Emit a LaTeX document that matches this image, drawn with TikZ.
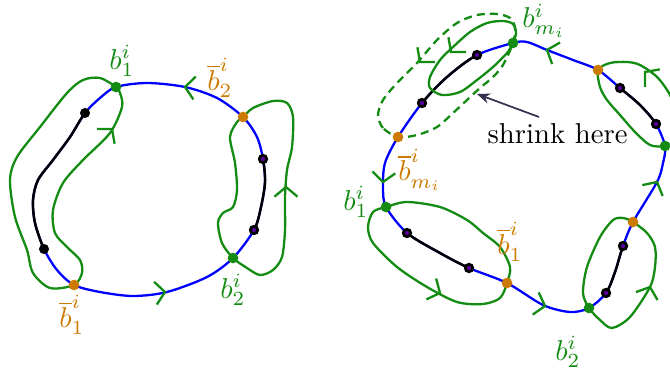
\documentclass[tikz,border=0pt]{standalone}
\usetikzlibrary{calc,arrows.meta}
\definecolor{gr}{RGB}{20,140,20}
\definecolor{orng}{RGB}{204,122,0}
\definecolor{purp}{RGB}{90,0,160}
\definecolor{navy}{RGB}{50,50,80}
\newcommand\chv[2]{\draw[gl] (#1) +(#2+130:15) -- (#1) -- +(#2-130:15);}
\newcommand\strip[3]{\clip ($(#1)!#3!90:(#2)$) -- ($(#1)!#3!-90:(#2)$) -- ($(#2)!#3!90:(#1)$) -- ($(#2)!#3!-90:(#1)$) -- cycle;}
\begin{document}
\begin{tikzpicture}[x=0.348pt,y=-0.348pt,
  bl/.style={blue,line width=0.8pt},
  gl/.style={gr,line width=0.8pt},
  kl/.style={black,line width=0.85pt},
  gdot/.style={circle,fill=gr,inner sep=0pt,minimum size=3.7pt},
  odot/.style={circle,fill=orng,inner sep=0pt,minimum size=3.7pt},
  kdot/.style={circle,fill=black,inner sep=0pt,minimum size=3.5pt},
  pdot/.style={circle,fill=purp,draw=black,line width=0.95pt,inner sep=0pt,minimum size=2.6pt},
  glab/.style={text=gr,inner sep=0pt},
  olab/.style={text=orng,inner sep=0pt}]
\useasboundingbox (0,0) rectangle (670,367);

% ---------------- left figure ----------------
\coordinate (Lb1) at (116,87);
\coordinate (Lbb2) at (243,117);
\coordinate (Lk1) at (85,113);
\coordinate (Lk2) at (44,249);
\coordinate (Lbb1) at (74,285);
\coordinate (Lb2) at (233,258);
\coordinate (Lk3) at (263,159);
\coordinate (Lk4) at (254,230);

\def\loopL{plot[smooth cycle] coordinates {(Lb1) (147,83) (185,87) (217,98) (Lbb2) (257,137) (Lk3) (265,182) (261,207) (Lk4) (Lb2) (207,277) (167,292) (133,296) (100,292) (Lbb1) (57,270) (Lk2) (35,223) (33,200) (38,180) (53,160) (70,137) (Lk1) (100,98)}}

\draw[bl] \loopL;
\begin{scope}\strip{Lk1}{Lk2}{14pt}\draw[kl] \loopL;\end{scope}
\begin{scope}\strip{Lk3}{Lk4}{6pt}\draw[kl] \loopL;\end{scope}

\draw[gl] plot[smooth cycle] coordinates {(Lb1) (100,78) (83,80) (67,93) (40,127) (17,157) (10,180) (15,217) (27,250) (33,273) (50,288) (Lbb1) (82,273) (80,260) (67,247) (55,233) (53,210) (63,183) (83,160) (110,133) (122,107) (120,93)};
\draw[gl] plot[smooth cycle] coordinates {(Lbb2) (253,108) (273,101) (287,103) (293,117) (292,147) (287,170) (285,197) (285,230) (282,257) (273,270) (260,275) (247,268) (Lb2) (222,243) (218,223) (223,213) (233,207) (237,190) (235,163) (230,137) (237,122)};

\chv{185,87}{186}
\chv{165,292}{-7}
\chv{112,129}{-50}
\chv{286,187}{-90}

\node[gdot] (nLb1) at (Lb1) {};
\node[odot] (nLbb2) at (Lbb2) {};
\node[odot] (nLbb1) at (Lbb1) {};
\node[gdot] (nLb2) at (Lb2) {};
\node[kdot] (nLk1) at (Lk1) {};
\node[kdot] (nLk2) at (Lk2) {};
\node[pdot] (nLk3) at (Lk3) {};
\node[pdot] (nLk4) at (Lk4) {};

\node[glab] (tLb1) at (122,61) {$b_1^i$};
\node[olab] (tLbb2) at (220,78) {$\overline{b}^i_2$};
\node[olab] (tLbb1) at (72,315) {$\overline{b}^i_1$};
\node[glab] (tLb2) at (233,290) {$b_2^i$};

% ---------------- right figure ----------------
\coordinate (Rbm) at (513,43);
\coordinate (Rk1) at (477,55);
\coordinate (Rk2) at (422,103);
\coordinate (Rbbm) at (398,137);
\coordinate (Rb1) at (386,207);
\coordinate (Rk3) at (407,233);
\coordinate (Rk4) at (469,268);
\coordinate (Rbb1) at (507,283);
\coordinate (Rb2) at (589,308);
\coordinate (Rk5) at (606,293);
\coordinate (Rk6) at (623,246);
\coordinate (Ro3) at (633,222);
\coordinate (Rg3) at (665,146);
\coordinate (Rk7) at (656,124);
\coordinate (Rk8) at (620,88);
\coordinate (Ro4) at (598,70);

\def\loopR{plot[smooth cycle] coordinates {(Rbm) (527,42) (547,50) (573,60) (Ro4) (Rk8) (640,105) (Rk7) (Rg3) (663,163) (657,182) (Ro3) (Rk6) (615,272) (Rk5) (Rb2) (570,312) (543,305) (Rbb1) (Rk4) (440,253) (Rk3) (Rb1) (383,187) (385,163) (Rbbm) (Rk2) (447,77) (Rk1)}}

\draw[bl] \loopR;
\begin{scope}\strip{Rk1}{Rk2}{6pt}\draw[kl] \loopR;\end{scope}
\begin{scope}\strip{Rk3}{Rk4}{6pt}\draw[kl] \loopR;\end{scope}
\begin{scope}\strip{Rk5}{Rk6}{6pt}\draw[kl] \loopR;\end{scope}
\begin{scope}\strip{Rk7}{Rk8}{6pt}\draw[kl] \loopR;\end{scope}

\draw[gl,dash pattern=on 2.8pt off 1.8pt] plot[smooth cycle] coordinates {(Rbbm) (383,128) (378,115) (383,100) (397,83) (417,63) (437,40) (457,23) (477,15) (497,14) (510,18) (515,28) (Rbm) (503,65) (493,77) (480,88) (467,100) (453,113) (437,127) (417,135)};
\draw[gl] plot[smooth cycle] coordinates {(Rbm) (516,33) (513,24) (503,21) (487,23) (470,32) (453,47) (440,60) (430,77) (430,88) (442,95) (460,92) (477,80) (493,67) (507,53)};
\draw[gl] plot[smooth cycle] coordinates {(Ro4) (610,63) (627,62) (640,65) (657,77) (670,95) (678,118) (675,140) (Rg3) (650,145) (635,132) (620,115) (607,100) (600,87)};
\draw[gl] plot[smooth cycle] coordinates {(Ro3) (623,218) (613,220) (600,237) (587,267) (583,293) (Rb2) (600,320) (612,328) (630,317) (650,287) (655,267) (655,247) (647,233)};
\draw[gl] plot[smooth cycle] coordinates {(Rb1) (373,212) (368,227) (373,243) (397,267) (427,287) (457,302) (483,304) (500,298) (Rbb1) (510,267) (500,247) (483,233) (467,220) (440,207) (407,202)};

\chv{547,50}{200}
\chv{383,182}{95}
\chv{545,306}{15}
\chv{657,182}{-62}
\chv{420,62}{130}
\chv{451,52}{130}
\chv{645,72}{-140}
\chv{650,287}{-70}
\chv{440,293}{25}

\node[gdot] (nRbm) at (Rbm) {};
\node[odot] (nRbbm) at (Rbbm) {};
\node[gdot] (nRb1) at (Rb1) {};
\node[odot] (nRbb1) at (Rbb1) {};
\node[gdot] (nRb2) at (Rb2) {};
\node[odot] (nRo3) at (Ro3) {};
\node[gdot] (nRg3) at (Rg3) {};
\node[odot] (nRo4) at (Ro4) {};
\foreach \k in {Rk1,Rk2,Rk3,Rk4,Rk5,Rk6,Rk7,Rk8} {\node[pdot] (n\k) at (\k) {};}

\node[glab] (tRbm) at (544,21) {$b^i_{m_i}$};
\node[olab] (tRbbm) at (420,170) {$\overline{b}^i_{m_i}$};
\node[glab] (tRb1) at (356,202) {$b^i_1$};
\node[olab] (tRbb1) at (510,242) {$\overline{b}^i_1$};
\node[glab] (tRb2) at (568,352) {$b^i_2$};

\node[anchor=base west,inner sep=0pt] (shr) at (487,143) {shrink here};
\coordinate (shrA) at (539,117);
\coordinate (shrT) at (477,94);
\draw[navy,line width=0.6pt,-{Stealth[length=4.5pt,width=3.6pt]}] (shrA) -- (shrT);
\end{tikzpicture}
\end{document}
